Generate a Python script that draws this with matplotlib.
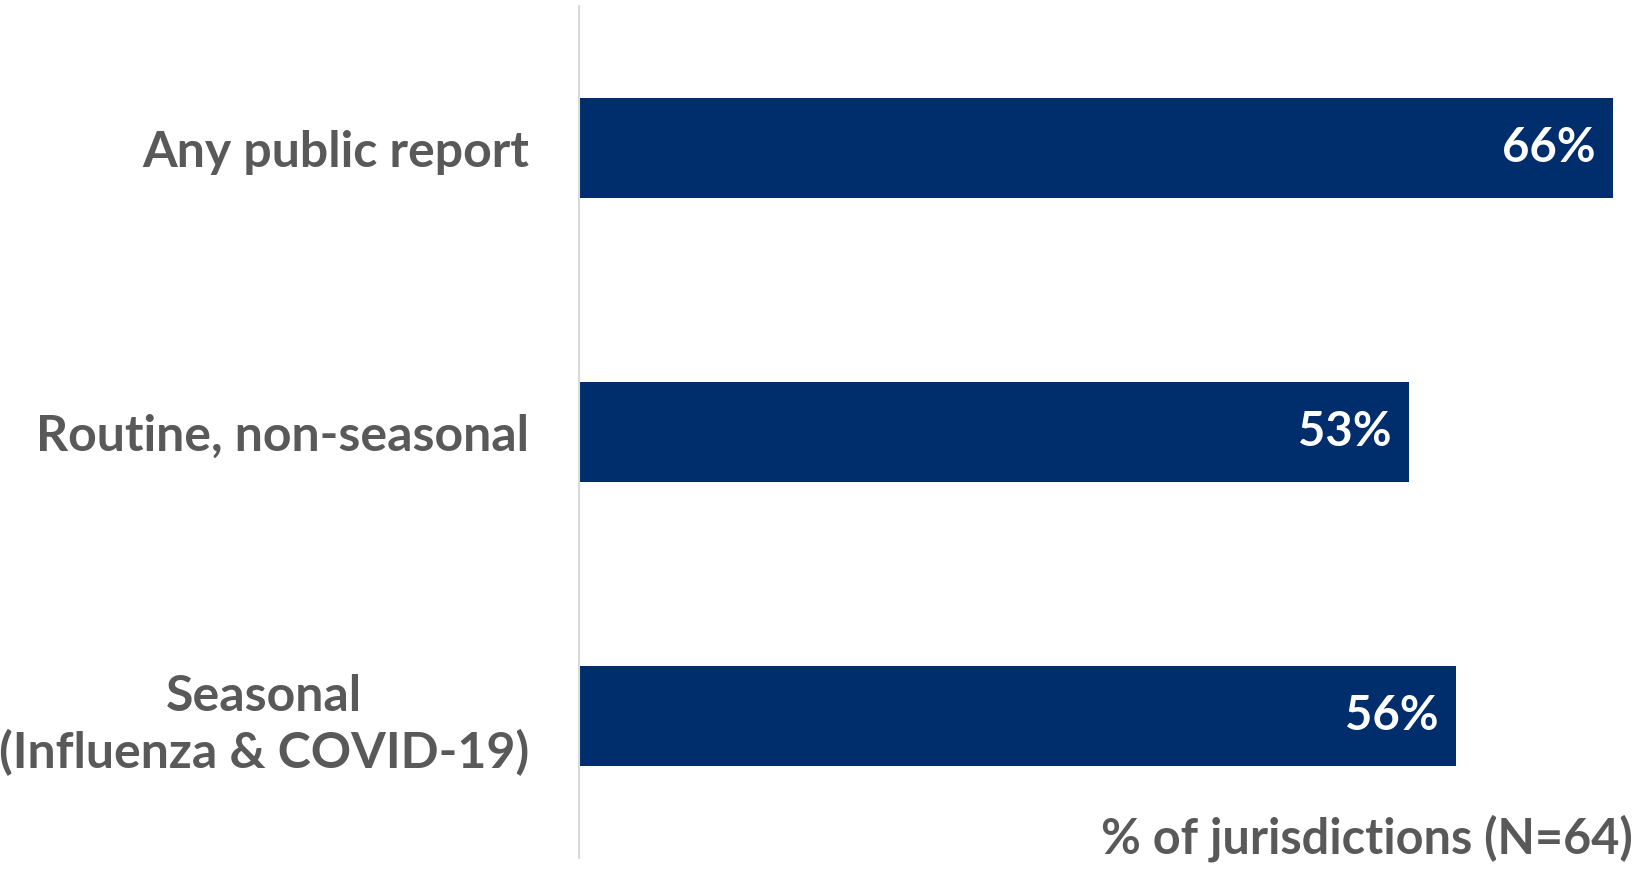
import matplotlib.pyplot as plt

# Share of jurisdictions with each kind of public report
categories = ["Any public report", "Routine, non-seasonal", "Seasonal\n(Influenza & COVID-19)"]
percents = [66, 53, 56]
value_labels = ["66%", "53%", "56%"]
axis_note = "% of jurisdictions (N=64)"

navy = "#002D6B"
grey = "#595959"

plt.rcParams["font.family"] = ["Lato", "DejaVu Sans"]
plt.rcParams["font.weight"] = "bold"

fig = plt.figure(figsize=(16.36, 8.74), dpi=100)
ax = fig.add_axes([579 / 1636, 16 / 874, (1613 - 579) / 1636, (858 - 6) / 874])

pos = list(range(len(categories)))
bars = ax.barh(pos, percents, height=0.35, color=navy)
ax.set_xlim(0, max(percents))
ax.set_ylim(len(categories) - 0.5, -0.5)

for bar, lab in zip(bars, value_labels):
    ax.text(bar.get_width() - 1.1, bar.get_y() + bar.get_height() / 2, lab,
            ha="right", va="center", color="white", fontsize=34, fontweight="bold")

ax.set_yticks(pos)
ax.set_yticklabels(categories, fontsize=36, color=grey, fontweight="bold",
                   multialignment="center", linespacing=1.25)
ax.tick_params(axis="y", length=0, pad=36)
ax.set_xticks([])

for side in ["top", "right", "bottom"]:
    ax.spines[side].set_visible(False)
ax.spines["left"].set_color("#d9d9d9")
ax.spines["left"].set_linewidth(1.5)

fig.text(1633 / 1636, 1 - 838 / 874, axis_note, ha="right", va="center",
         fontsize=35, color=grey, fontweight="bold")

fig.savefig("out.png", dpi=100, facecolor="white")
